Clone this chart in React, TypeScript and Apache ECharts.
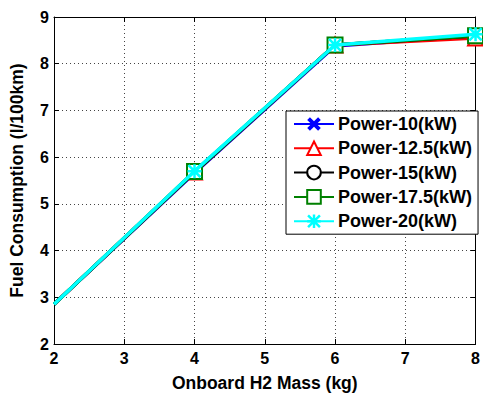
import React, { useEffect, useRef } from "react";
import * as echarts from "echarts";

const xValues = [2, 4, 6, 8];
const seriesNames = ["Power-10(kW)", "Power-12.5(kW)", "Power-15(kW)", "Power-17.5(kW)", "Power-20(kW)"];
const power10 = [2.85, 5.66, 8.38, 8.6];
const power125 = [2.85, 5.68, 8.4, 8.55];
const power15 = [2.85, 5.68, 8.4, 8.6];
const power175 = [2.85, 5.69, 8.4, 8.6];
const power20 = [2.85, 5.7, 8.4, 8.63];
const seriesValues = [power10, power125, power15, power175, power20];
const seriesColors = ["#0000ff", "#ff0000", "#000000", "#008000", "#00ffff"];

const X_PATH = "path://M2,0L5,3L8,0L10,2L7,5L10,8L8,10L5,7L2,10L0,8L3,5L0,2Z";
const STAR_PATH =
  "path://M0,4.1L10,4.1L10,5.9L0,5.9Z M4.1,0L5.9,0L5.9,10L4.1,10Z M1.3,0L10,8.7L8.7,10L0,1.3Z M8.7,0L10,1.3L1.3,10L0,8.7Z";
const symbols = [X_PATH, "emptyTriangle", "emptyCircle", "emptyRect", STAR_PATH];
const symbolSizes = [12, 15, 13, 15, 14];

export default function App() {
  const ref = useRef<HTMLDivElement>(null);
  useEffect(() => {
    if (!ref.current) return;
    const chart = echarts.init(ref.current, undefined, { renderer: "svg" });
    const fontFamily = "Liberation Sans, Arial, sans-serif";
    const isFilled = (i: number) => i === 0 || i === 4;
    const itemStyleFor = (i: number) => ({
      color: seriesColors[i],
      borderWidth: isFilled(i) ? 0 : 2.5,
    });
    const series = seriesValues.map((vals, i) => ({
      name: seriesNames[i],
      type: "line",
      data: vals.map((v, j) =>
        j === 0 ? { value: [xValues[j], v], symbol: "none" } : { value: [xValues[j], v] }
      ),
      symbol: symbols[i],
      symbolSize: symbolSizes[i],
      showAllSymbol: true,
      clip: true,
      lineStyle: { color: seriesColors[i], width: 3.5 },
      itemStyle: itemStyleFor(i),
      z: 2 + i,
    }));
    chart.setOption({
      animation: false,
      backgroundColor: "#ffffff",
      grid: { left: 45, right: 5, top: 17, bottom: 45, containLabel: false },
      legend: {
        orient: "vertical",
        left: 286,
        top: 111,
        padding: [4, 6, 4, 7],
        itemWidth: 40,
        itemHeight: 17,
        itemGap: 6.3,
        backgroundColor: "#ffffff",
        borderColor: "#000000",
        borderWidth: 1,
        borderRadius: 0,
        textStyle: { fontFamily, fontWeight: "bold", fontSize: 18, color: "#000", padding: [0, 0, 0, -1] },
        data: seriesNames,
      },
      xAxis: [
        {
          type: "value",
          min: 2,
          max: 8,
          interval: 1,
          name: "Onboard H2 Mass (kg)",
          nameLocation: "middle",
          nameGap: 30,
          nameTextStyle: { fontFamily, fontWeight: "bold", fontSize: 17.5, color: "#000" },
          axisLine: { show: true, onZero: false, lineStyle: { color: "#000", width: 1 } },
          axisTick: { show: true, inside: true, length: 5, lineStyle: { color: "#000" } },
          axisLabel: { fontFamily, fontWeight: "bold", fontSize: 16, color: "#000", margin: 6 },
          splitLine: { show: true, lineStyle: { color: "#444", type: [1, 3], width: 1 } },
        },
        {
          type: "value",
          position: "top",
          min: 2,
          max: 8,
          interval: 1,
          axisLine: { show: true, onZero: false, lineStyle: { color: "#000", width: 1 } },
          axisTick: { show: true, inside: true, length: 5, lineStyle: { color: "#000" } },
          axisLabel: { show: false },
          splitLine: { show: false },
        },
      ],
      yAxis: [
        {
          type: "value",
          min: 2,
          max: 9,
          interval: 1,
          name: "Fuel Consumption (l/100km)",
          nameLocation: "middle",
          nameGap: 28,
          nameTextStyle: { fontFamily, fontWeight: "bold", fontSize: 17.5, color: "#000" },
          axisLine: { show: true, onZero: false, lineStyle: { color: "#000", width: 1 } },
          axisTick: { show: true, inside: true, length: 5, lineStyle: { color: "#000" } },
          axisLabel: { fontFamily, fontWeight: "bold", fontSize: 16, color: "#000", margin: 5 },
          splitLine: { show: true, lineStyle: { color: "#444", type: [1, 3], width: 1 } },
        },
        {
          type: "value",
          position: "right",
          min: 2,
          max: 9,
          interval: 1,
          axisLine: { show: true, onZero: false, lineStyle: { color: "#000", width: 1 } },
          axisTick: { show: true, inside: true, length: 5, lineStyle: { color: "#000" } },
          axisLabel: { show: false },
          splitLine: { show: false },
        },
      ],
      series,
    });
    return () => chart.dispose();
  }, []);
  return <div ref={ref} style={{ width: 483, height: 397, position: "absolute", left: 0, top: 0 }} />;
}
